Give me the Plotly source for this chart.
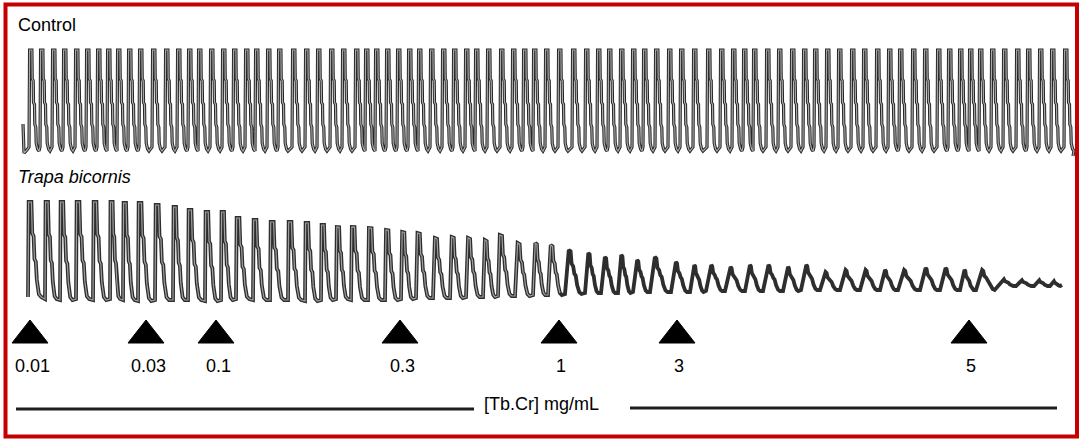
import plotly.graph_objects as go

W, H = 1082, 439

# ---------------- data (pixel-time units) ----------------
control_onsets = [29, 40, 52, 63, 75, 86, 97, 107, 117, 128, 139, 152, 165, 177, 188, 198,
                  210, 222, 233, 245, 255, 267, 278, 292, 305, 317, 330, 342, 355,
                  365, 375, 386, 397, 408, 418, 430, 442, 453, 465, 475, 487, 500, 512,
                  523, 533, 545, 558, 572, 585, 597, 608, 620, 632, 643, 655, 668, 680,
                  693, 707,
                  720, 732, 743, 753, 766, 778, 791, 803, 814, 826, 838, 851, 863, 876,
                  888, 899, 912, 924, 937, 948, 959, 969, 979, 991, 1003, 1016, 1027,
                  1039, 1051, 1064]
control_top = 50
control_bottom = 149
control_lead_x = [23, 24, 27]
control_lead_y = [124, 153, 150]
control_end_x = [1073]
control_end_y = [156]

trapa_onsets = [28, 45, 60, 76, 93, 110, 123, 138, 155, 173, 188, 205, 221, 236, 253, 270,
                288, 305, 321, 336, 351, 368, 385, 401, 416, 433, 450, 466, 483, 498, 515, 533,
                548, 565, 585, 601, 618, 633, 650, 671, 690, 706, 725, 745, 763, 783, 801,
                820, 840, 860, 880, 898, 920, 940, 960, 976,
                998, 1016, 1034, 1050]
trapa_tops = [202, 202, 202, 202, 202, 202, 203, 203, 205, 207, 210, 212, 212, 218, 220, 222,
              222, 223, 225, 227, 227, 228, 230, 232, 233, 238, 237, 238, 240, 235, 243, 243,
              245, 250, 253, 257, 255, 260, 257, 262, 265, 265, 267, 265, 265, 267, 265,
              272, 270, 270, 270, 270, 268, 268, 270, 270,
              279, 280, 280, 281]
trapa_bottoms = [297, 299, 300, 299, 300, 299, 300, 301, 300, 300, 300, 301, 300, 299, 300, 300,
                 300, 301, 300, 299, 300, 300, 300, 299, 298, 298, 298, 297, 297, 296, 296, 295,
                 295, 294, 293, 293, 293, 292, 292, 292, 292, 291, 291, 291, 291, 291, 290,
                 290, 290, 290, 290, 290, 290, 290, 290, 290,
                 286, 286, 286, 286]
trapa_end_x = [1062]
trapa_end_y = [285]

dose_labels = ["0.01", "0.03", "0.1", "0.3", "1", "3", "5"]
dose_x = [30, 146, 216, 400, 559, 677, 969]

row_labels = ["Control", "<i>Trapa bicornis</i>"]
axis_label = "[Tb.Cr] mg/mL"

# ---------------- styles ----------------
FONT = "Liberation Sans, Arial, Helvetica, sans-serif"
RED = "#c40000"
INK = "#1e1e1e"

# control cycle template (pixel offsets, fraction of amplitude) – stair-step fall
c_dx = [0, 0.6, 2.9, 3.2, 4.2, 4.5, 5.5, 5.8, 6.8, 7.2, 8.6, 10.0]
c_fy = [0.98, 0, 0, 0.29, 0.31, 0.53, 0.55, 0.75, 0.78, 0.94, 1.0, 1.02]

# trapa cycle templates (fractions of period / amplitude) for large and small beats
e_fx = [0, 0.04, 0.20, 0.25, 0.33, 0.38, 0.46, 0.52, 0.64, 0.78]
e_fy = [1, 0, 0, 0.33, 0.36, 0.60, 0.63, 0.82, 0.97, 1.0]
l_fx = [0, 0.28, 0.33, 0.38, 0.46, 0.52, 0.58, 0.66, 0.76, 0.85]
l_fy = [1, 0, 0.05, 0.30, 0.38, 0.50, 0.55, 0.78, 0.95, 1.0]

# ---------------- build traces ----------------
cx, cy = list(control_lead_x), list(control_lead_y)
amp = control_bottom - control_top
for o in control_onsets:
    for dx, fy in zip(c_dx, c_fy):
        cx.append(o + dx)
        cy.append(control_top + fy * amp)
cx += control_end_x
cy += control_end_y

tx, ty = [], []
ends = trapa_onsets[1:] + trapa_end_x
for o, n, t, b in zip(trapa_onsets, ends, trapa_tops, trapa_bottoms):
    P = n - o
    A = b - t
    w = min(max((A - 25) / 50.0, 0.0), 1.0)
    for ex, ey, lx, ly in zip(e_fx, e_fy, l_fx, l_fy):
        fx = w * ex + (1 - w) * lx
        fy = w * ey + (1 - w) * ly
        tx.append(o + fx * P)
        ty.append(t + fy * A)
tx += trapa_end_x
ty += trapa_end_y

fig = go.Figure()

fig.add_trace(go.Scatter(x=cx, y=cy, mode="lines",
                         line=dict(color="#262626", width=3.2), hoverinfo="skip"))
fig.add_trace(go.Scatter(x=cx, y=cy, mode="lines",
                         line=dict(color="#a8a8a8", width=1.2), hoverinfo="skip"))

fig.add_trace(go.Scatter(x=tx, y=ty, mode="lines",
                         line=dict(color="#2e2e2e", width=3.8), hoverinfo="skip"))
inner_x = [x for x in tx if x <= 560]
inner_y = ty[:len(inner_x)]
fig.add_trace(go.Scatter(x=inner_x, y=inner_y, mode="lines",
                         line=dict(color="#a0a0a0", width=1.2), hoverinfo="skip"))

# dose arrowheads
TRI_HALF, TRI_TOP, TRI_BASE = 18, 320, 343
for xc in dose_x:
    fig.add_trace(go.Scatter(x=[xc - TRI_HALF, xc + TRI_HALF, xc, xc - TRI_HALF],
                             y=[TRI_BASE, TRI_BASE, TRI_TOP, TRI_BASE],
                             mode="lines", fill="toself", fillcolor="#000000",
                             line=dict(color="#000000", width=1), hoverinfo="skip"))

# concentration bar
fig.add_trace(go.Scatter(x=[16, 474], y=[409, 409], mode="lines",
                         line=dict(color=INK, width=3), hoverinfo="skip"))
fig.add_trace(go.Scatter(x=[630, 1057], y=[408, 408], mode="lines",
                         line=dict(color=INK, width=3), hoverinfo="skip"))

annotations = [
    dict(x=16, y=25, text=row_labels[0], xanchor="left", yanchor="middle"),
    dict(x=16, y=177, text=row_labels[1], xanchor="left", yanchor="middle"),
    dict(x=482, y=404, text=axis_label, xanchor="left", yanchor="middle"),
]
for lab, xc in zip(dose_labels, dose_x):
    annotations.append(dict(x=xc + 2, y=366, text=lab, xanchor="center", yanchor="middle"))
for a in annotations:
    a.update(xref="x", yref="y", showarrow=False,
             font=dict(family=FONT, size=18, color="#000000"))

fig.update_layout(
    width=W, height=H,
    margin=dict(l=0, r=0, t=0, b=0, pad=0),
    paper_bgcolor="white", plot_bgcolor="white",
    showlegend=False,
    xaxis=dict(range=[0, W], visible=False, fixedrange=True),
    yaxis=dict(range=[H, 0], visible=False, fixedrange=True),
    annotations=annotations,
    shapes=[dict(type="rect", xref="x", yref="y", x0=5.5, x1=1077, y0=4.5, y1=436.5,
                 line=dict(color=RED, width=4), fillcolor="rgba(0,0,0,0)", layer="above")],
)

fig.write_html("out.html", config={"displayModeBar": False, "staticPlot": True},
               post_script="document.body.style.margin='0';document.body.style.overflow='hidden';")
